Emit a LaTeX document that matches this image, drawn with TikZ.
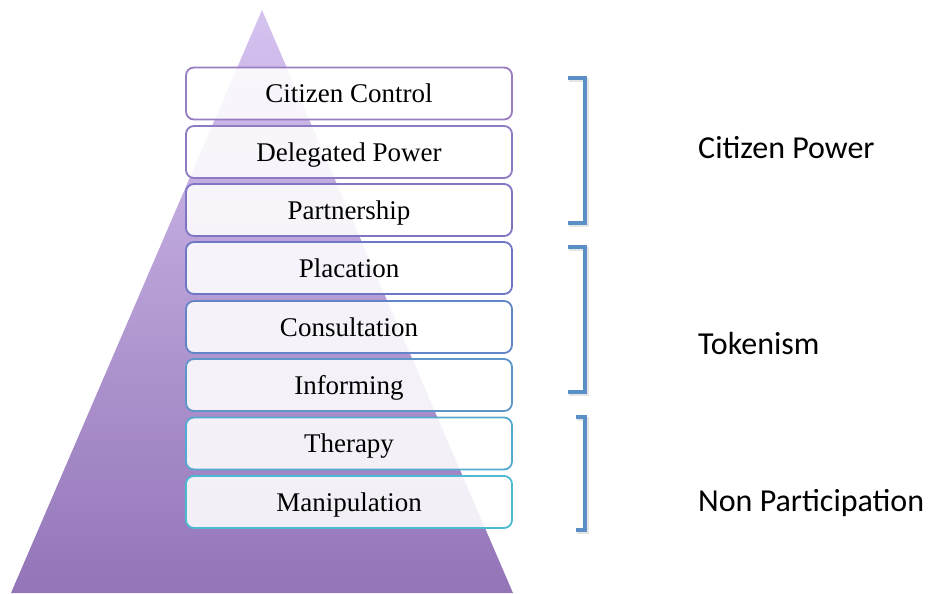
\documentclass[tikz,border=0pt]{standalone}
\usepackage{fontspec}
\setmainfont{Liberation Serif}
\newfontfamily\labelfont{Carlito}
\begin{document}
\begin{tikzpicture}[x=1pt,y=-1pt,
  rung/.style={draw=#1, line width=1.8pt, rounded corners=8pt, fill=white, fill opacity=0.88, text opacity=1,
    minimum width=326pt, minimum height=52pt, inner sep=0pt, text height=18pt, text depth=0pt,
    font=\fontsize{27}{31}\selectfont},
  grouplabel/.style={anchor=base west, inner sep=0pt, font=\labelfont\fontsize{32}{36}\selectfont},
  bracketline/.style={draw=brk, line width=3.5pt},
  bracketshadow/.style={draw=black!40, line width=4.5pt, opacity=0.25}]
\definecolor{brk}{RGB}{91,143,199}
\definecolor{trtop}{RGB}{214,195,240}
\definecolor{trbot}{RGB}{147,117,184}
\definecolor{c1}{RGB}{152,126,192}
\definecolor{c2}{RGB}{142,122,194}
\definecolor{c3}{RGB}{126,118,196}
\definecolor{c4}{RGB}{110,118,198}
\definecolor{c5}{RGB}{100,132,200}
\definecolor{c6}{RGB}{95,150,202}
\definecolor{c7}{RGB}{85,168,206}
\definecolor{c8}{RGB}{75,186,210}
\useasboundingbox (0,0) rectangle (930,594);
% pyramid
\shade[top color=trtop, bottom color=trbot] (262,10) -- (513,593) -- (11,593) -- cycle;
% rungs
\node[rung=c1] (cc) at (349,93.5) {Citizen Control};
\node[rung=c2] (dp) at (349,152) {Delegated Power};
\node[rung=c3] (pa) at (349,210) {Partnership};
\node[rung=c4] (pl) at (349,268) {Placation};
\node[rung=c5] (co) at (349,327) {Consultation};
\node[rung=c6] (in) at (349,385) {Informing};
\node[rung=c7] (th) at (349,443.5) {Therapy};
\node[rung=c8] (ma) at (349,502) {Manipulation};
% brackets (shadows)
\draw[bracketshadow] (569,80) -- (587,80) -- (587,225) -- (569,225);
\draw[bracketshadow] (569,249) -- (587,249) -- (587,394) -- (569,394);
\draw[bracketshadow] (577,419) -- (587,419) -- (587,532) -- (577,532);
% brackets
\draw[bracketline] (568,78) -- (585,78) -- (585,223) -- (568,223);
\draw[bracketline] (568,247) -- (585,247) -- (585,392) -- (568,392);
\draw[bracketline] (576,417) -- (585,417) -- (585,530) -- (576,530);
% labels
\node[grouplabel] (cp) at (698,158) {Citizen Power};
\node[grouplabel] (tk) at (698,354) {Tokenism};
\node[grouplabel] (np) at (698,511) {Non Participation};
\end{tikzpicture}
\end{document}
